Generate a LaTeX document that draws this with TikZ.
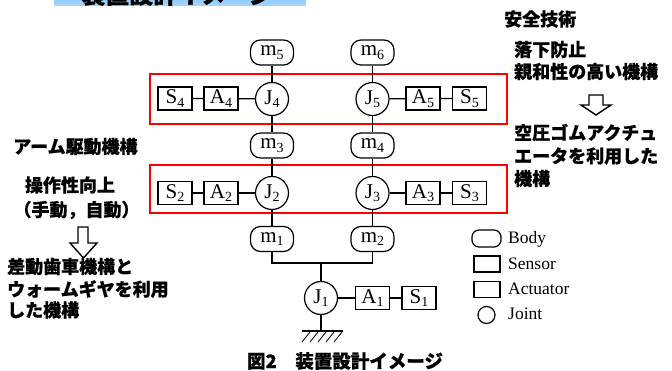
\documentclass[tikz,border=0pt]{standalone}
\usepackage{fontspec}
\setmainfont{Liberation Serif}
\newfontfamily\jp{Noto Sans CJK JP}[FakeBold=0.6]
\newcommand\nlab[2]{#1\raisebox{-3.5pt}{\fontsize{14}{14}\selectfont #2}}
\begin{document}
\begin{tikzpicture}[x=1pt,y=-1pt,
  body/.style={draw,line width=1.2pt,rounded corners=10pt,minimum width=43pt,minimum height=25pt,inner sep=0pt,font=\fontsize{21}{21}\selectfont},
  boxn/.style={draw,line width=1.2pt,minimum width=34pt,minimum height=23pt,inner sep=0pt,font=\fontsize{21}{21}\selectfont},
  joint/.style={draw,line width=1.2pt,circle,minimum size=33pt,inner sep=0pt,font=\fontsize{21}{21}\selectfont},
  conn/.style={line width=1.2pt},
  redbox/.style={draw=red,line width=2.6pt},
  jt/.style={font=\jp\bfseries\fontsize{18}{18}\selectfont,inner sep=0pt},
  legt/.style={font=\fontsize{17.5}{17.5}\selectfont,anchor=west,inner sep=0pt},
  harrow/.style={draw,line width=1.4pt,fill=white,line join=miter}
]
\useasboundingbox (0,0) rectangle (672,371);
\fill[white] (0,0) rectangle (672,371);
% banner
\begin{scope}
\clip (0,0) rectangle (672,371);
\fill[top color={rgb,255:red,90;green,170;blue,240},bottom color={rgb,255:red,165;green,215;blue,255}] (54,-20) rectangle (306,6);
\node[jt,font=\jp\bfseries\fontsize{24}{24}\selectfont,anchor=base] (banner) at (177,3.5) {装置設計イメージ};
\end{scope}
% red boxes
\draw[redbox] (150,74) rectangle (507,124);
\draw[redbox] (150,165) rectangle (507,213);
% nodes
\node[body] (m5) at (272,52.5) {\nlab{m}{5}};
\node[body] (m6) at (372.5,52.5) {\nlab{m}{6}};
\node[joint] (J4) at (272,99) {\nlab{J}{4}};
\node[joint] (J5) at (372.5,99) {\nlab{J}{5}};
\node[boxn] (S4) at (175,98.5) {\nlab{S}{4}};
\node[boxn] (A4) at (221,98.5) {\nlab{A}{4}};
\node[boxn] (A5) at (423,98.5) {\nlab{A}{5}};
\node[boxn] (S5) at (469.5,98.5) {\nlab{S}{5}};
\node[body] (m3) at (272,145.5) {\nlab{m}{3}};
\node[body] (m4) at (372.5,145.5) {\nlab{m}{4}};
\node[joint] (J2) at (272,193) {\nlab{J}{2}};
\node[joint] (J3) at (372.5,193) {\nlab{J}{3}};
\node[boxn] (S2) at (175,193) {\nlab{S}{2}};
\node[boxn] (A2) at (221,193) {\nlab{A}{2}};
\node[boxn] (A3) at (423,193) {\nlab{A}{3}};
\node[boxn] (S3) at (469.5,193) {\nlab{S}{3}};
\node[body] (m1) at (272,239) {\nlab{m}{1}};
\node[body] (m2) at (372.5,239) {\nlab{m}{2}};
\node[joint] (J1) at (321,298) {\nlab{J}{1}};
\node[boxn] (A1) at (372.5,298) {\nlab{A}{1}};
\node[boxn] (S1) at (419,298) {\nlab{S}{1}};
\coordinate (busL) at (272,263);
\coordinate (busR) at (372.5,263);
\coordinate (busM) at (321,263);
\coordinate (gnd) at (321,331);
% connectors
\draw[conn] (m5) -- (J4) -- (m3) -- (J2) -- (m1);
\draw[conn] (m6) -- (J5) -- (m4) -- (J3) -- (m2);
\draw[conn] (S4) -- (A4) -- (J4);
\draw[conn] (J5) -- (A5) -- (S5);
\draw[conn] (S2) -- (A2) -- (J2);
\draw[conn] (J3) -- (A3) -- (S3);
\draw[conn] (m1) -- (busL) -- (busR) -- (m2);
\draw[conn] (busM) -- (J1);
\draw[conn] (J1) -- (gnd);
\draw[conn] (J1) -- (A1) -- (S1);
% ground
\draw[conn] (302,331) -- (343,331);
\foreach \x in {310,318,326,334,342} \draw[line width=0.8pt] (\x,332) -- (\x-8,342);
% legend
\node[draw,line width=1.2pt,rounded corners=7pt,minimum width=29pt,minimum height=17pt,inner sep=0pt] (lb) at (486.5,238.5) {};
\node[draw,line width=1.2pt,minimum width=26pt,minimum height=16pt,inner sep=0pt] (ls) at (487,264) {};
\node[draw,line width=1.2pt,minimum width=26pt,minimum height=16pt,inner sep=0pt] (la) at (487,289.5) {};
\node[draw,line width=1.2pt,circle,minimum size=17pt,inner sep=0pt] (lj) at (486.5,315) {};
\node[legt] (tb) at (508,239) {Body};
\node[legt] (ts) at (508,264) {Sensor};
\node[legt] (ta) at (508,289) {Actuator};
\node[legt] (tj) at (508,314) {Joint};
% right texts
\node[jt,anchor=west] (r0) at (504,19) {安全技術};
\node[jt,anchor=west] (r1) at (514,49.5) {落下防止};
\node[jt,anchor=west] (r2) at (514,71.5) {親和性の高い機構};
\draw[harrow] (589,95) -- (603,95) -- (603,105) -- (611,105) -- (596,115) -- (581,105) -- (589,105) -- cycle;
\node[jt,anchor=west] (r3) at (514,132.5) {空圧ゴムアクチュ};
\node[jt,anchor=west] (r4) at (514,156) {エータを利用した};
\node[jt,anchor=west] (r5) at (514,178.5) {機構};
% left texts
\node[jt,anchor=west] (l0) at (13,146.5) {アーム駆動機構};
\node[jt] (l1) at (70,185) {操作性向上};
\node[jt] (l2) at (76.5,210) {（手動，自動）};
\draw[harrow] (78,227) -- (88,227) -- (88,243) -- (97,243) -- (83.5,258) -- (70,243) -- (78,243) -- cycle;
\node[jt,anchor=west] (l3) at (7,266.5) {差動歯車機構と};
\node[jt,anchor=west] (l4) at (7,289) {ウォームギヤを利用};
\node[jt,anchor=west] (l5) at (7,310) {した機構};
% caption
\node[jt,font=\jp\bfseries\fontsize{18.5}{18.5}\selectfont] (cap) at (345,361) {図2　装置設計イメージ};
\end{tikzpicture}
\end{document}
